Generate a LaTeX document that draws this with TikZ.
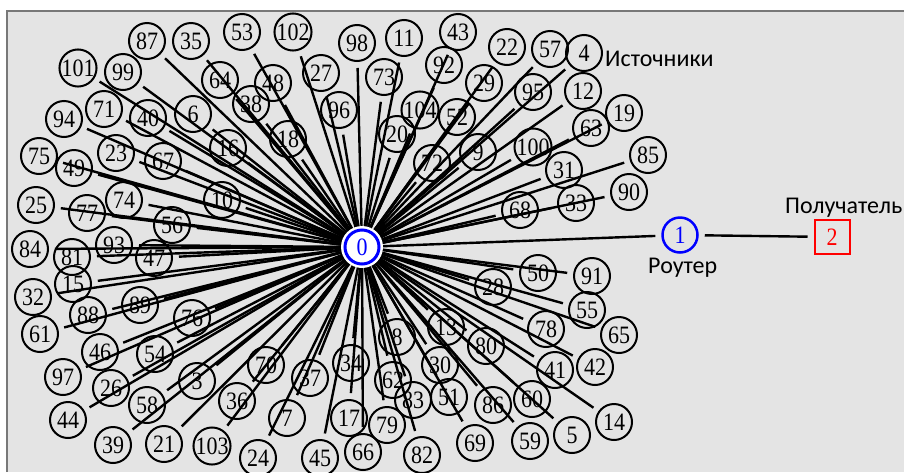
\documentclass[tikz,border=0pt]{standalone}
\usepackage{fontspec}
\setmainfont{Liberation Serif}
\newfontfamily\numfont[FakeStretch=0.88]{Liberation Serif}
\newfontfamily\labfont{Carlito}
\usetikzlibrary{backgrounds}
\definecolor{bggray}{RGB}{228,228,228}
\definecolor{framegray}{RGB}{120,120,120}
\begin{document}
\begin{tikzpicture}[x=1pt,y=-1pt,
  nfont/.style={font=\numfont\fontsize{25}{25}\selectfont},
  srcnode/.style={circle,draw=black,line width=2pt,minimum size=36pt,inner sep=0pt,nfont},
  link/.style={line width=2.4pt,black},
  caption/.style={font=\labfont\fontsize{24}{24}\selectfont,inner sep=0pt}]
\useasboundingbox (0,0) rectangle (904,472);
% centre node 0
\node[circle,fill=white,minimum size=42pt,inner sep=0pt] (n0w) at (362,247) {};
\node[circle,draw=blue,line width=3pt,minimum size=34pt,inner sep=0pt,text=blue,nfont] (n0) at (362,247) {0};
% sources
\foreach \n/\x/\y in {3/197/381,4/584/53,5/572/435,6/193/114,7/287/418,8/397/337,9/478/152,
 10/222/200,11/404/38,12/583/91,13/446/327,14/614/422,15/73/284,16/228/148,17/349/418,
 18/288/139,19/624/113,20/397/134,21/164/444,22/507/47,23/116/153,24/258/458,25/36/205,
 26/111/388,27/321/73,28/493/287,29/484/83,30/440/365,31/564/170,32/33/297,33/576/203,
 34/351/363,35/191/41,36/237/401,37/310/378,38/251/104,39/113/445,40/148/118,41/555/370,
 42/595/367,43/458/32,44/68/420,45/320/458,46/100/352,47/154/258,48/273/83,49/74/168,
 50/538/273,51/449/397,52/457/117,53/242/32,54/155/354,55/587/310,56/172/225,57/550/49,
 58/147/405,59/530/441,60/532/399,61/40/334,62/393/380,63/591/128,64/220/80,65/619/335,
 66/363/452,67/163/161,68/520/210,69/475/443,70/266/365,71/104/109,72/432/163,73/384/77,
 74/124/200,75/39/156,76/192/318,77/87/213,78/546/329,79/387/425,80/486/346,81/72/257,
 82/422/455,83/413/400,84/30/249,85/648/155,86/493/405,87/147/41,88/88/315,89/140/305,
 90/629/192,91/592/276,92/444/65,93/114/245,94/64/119,95/533/92,96/339/110,97/63/377,
 98/357/43,99/123/72,100/533/147,101/78/68,102/293/32,103/212/446,104/420/110}
 {\node[srcnode] (n\n) at (\x,\y) {\n};}
% router and receiver
\node[circle,draw=blue,line width=2.5pt,minimum size=35pt,inner sep=0pt,text=blue,nfont] (n1) at (680,235) {1};
\node[rectangle,draw=red,line width=2pt,minimum width=35pt,minimum height=34pt,inner sep=0pt,
  text=red,nfont] (n2) at (832,237) {2};
% background and connectors
\begin{pgfonlayer}{background}
\fill[white] (0,0) rectangle (904,472);
\fill[bggray] (7,11) rectangle (904,472);
\draw[framegray,line width=1.5pt] (7,472) -- (7,11) -- (904,11);
\foreach \n in {3,...,104} {\draw[link,shorten >=6pt] (n0) -- (n\n);}
\draw[link,shorten >=6pt] (n0) -- (n1);
\draw[link,shorten >=6pt,shorten <=6pt] (n1) -- (n2);
\end{pgfonlayer}
% captions
\node[caption,anchor=base west] (srclab) at (605,66) {Источники};
\node[caption,anchor=base west] (rtlab) at (648,273) {Роутер};
\node[caption,anchor=base west] (rcvlab) at (785,213) {Получатель};
\end{tikzpicture}
\end{document}
